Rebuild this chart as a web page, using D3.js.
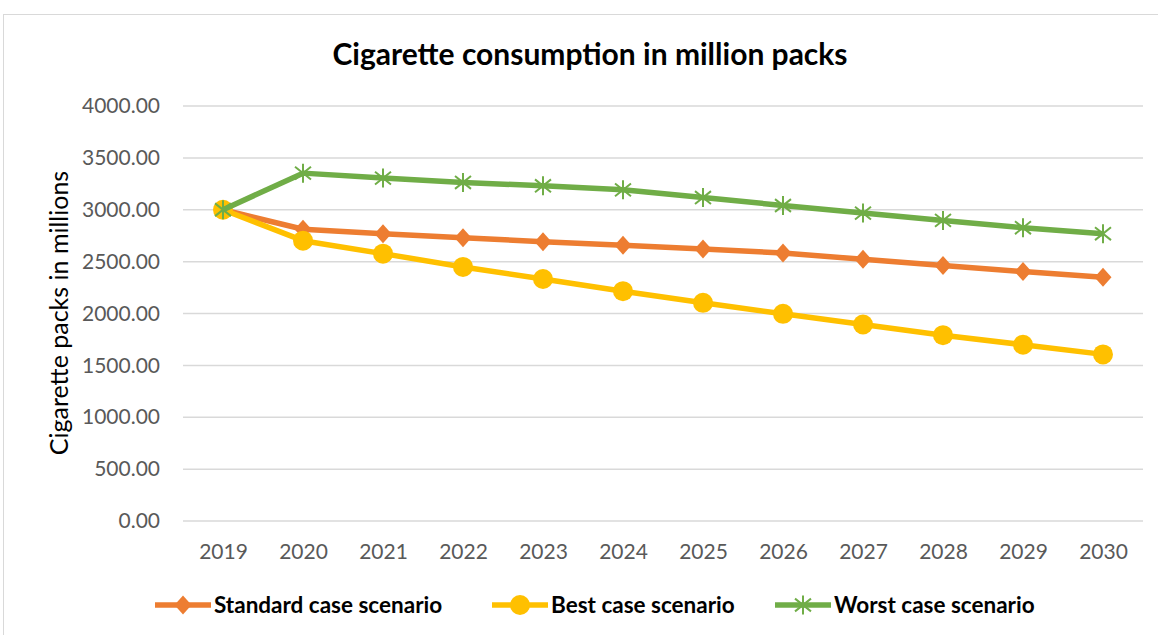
<!DOCTYPE html>
<html>
<head>
<meta charset="utf-8">
<script src="https://cdn.jsdelivr.net/npm/d3@7/dist/d3.min.js"></script>
<style>
  html, body { margin: 0; padding: 0; background: #fff; }
  svg { display: block; }
</style>
</head>
<body>
<svg id="chart" width="1158" height="635"></svg>
<script>
// Projected cigarette consumption (million packs) by scenario
const years = ["2019","2020","2021","2022","2023","2024","2025","2026","2027","2028","2029","2030"];
const standardCase = [3000, 2812, 2769, 2731, 2692, 2658, 2622, 2583, 2522, 2462, 2404, 2349];
const bestCase     = [3000, 2702, 2577, 2449, 2333, 2215, 2103, 1997, 1894, 1791, 1699, 1606];
const worstCase    = [3000, 3353, 3305, 3263, 3231, 3192, 3118, 3041, 2968, 2897, 2827, 2769];
const yTicks = [0, 500, 1000, 1500, 2000, 2500, 3000, 3500, 4000];

const seriesNames  = ["Standard case scenario", "Best case scenario", "Worst case scenario"];
const seriesValues = [standardCase, bestCase, worstCase];
const seriesColors = ["#ED7D31", "#FFC000", "#70AD47"];
const seriesMarkers = ["diamond", "circle", "star"];

const FONT = "Lato, 'Open Sans', sans-serif";
const svg = d3.select("#chart");

// outer chart frame
svg.append("rect")
  .attr("x", 3.5).attr("y", 14.5)
  .attr("width", 1170).attr("height", 640)
  .attr("fill", "none").attr("stroke", "#D9D9D9").attr("stroke-width", 1);

const x = d3.scalePoint().domain(years).range([183, 1143]).padding(0.5);
const y = d3.scaleLinear().domain([0, 4000]).range([521, 106]);

// horizontal gridlines
svg.append("g")
  .selectAll("line")
  .data(yTicks)
  .join("line")
  .attr("x1", 183).attr("x2", 1143)
  .attr("y1", d => y(d)).attr("y2", d => y(d))
  .attr("stroke", "#D9D9D9").attr("stroke-width", 1.5);

// y axis labels
const yAxis = d3.axisLeft(y).tickValues(yTicks).tickFormat(d3.format(".2f")).tickSize(0).tickPadding(0);
svg.append("g")
  .attr("transform", "translate(160,0)")
  .call(yAxis)
  .call(g => g.select(".domain").remove())
  .selectAll("text")
  .attr("font-family", FONT).attr("font-size", 21).attr("fill", "#595959");

// x axis labels
const xAxis = d3.axisBottom(x).tickSize(0).tickPadding(0);
svg.append("g")
  .attr("transform", "translate(0,544)")
  .call(xAxis)
  .call(g => g.select(".domain").remove())
  .selectAll("text")
  .attr("font-family", FONT).attr("font-size", 21).attr("fill", "#595959");

// title
svg.append("text")
  .attr("x", 590).attr("y", 65)
  .attr("text-anchor", "middle")
  .attr("font-family", FONT).attr("font-size", 30).attr("font-weight", "bold")
  .attr("fill", "#000")
  .text("Cigarette consumption in million packs");

// y axis title
svg.append("text")
  .attr("transform", "translate(68,313) rotate(-90)")
  .attr("text-anchor", "middle")
  .attr("font-family", FONT).attr("font-size", 25)
  .attr("fill", "#000")
  .text("Cigarette packs in millions");

function drawMarker(g, type, color) {
  if (type === "circle") {
    g.append("circle").attr("r", 10).attr("fill", color);
  } else if (type === "diamond") {
    g.append("path").attr("d", "M0,-9.5L8.5,0L0,9.5L-8.5,0Z").attr("fill", color);
  } else {
    const s = 9.5;
    const d = 8;
    g.append("path")
      .attr("d", `M0,${-s}L0,${s}M${-d},${-d * 0.8}L${d},${d * 0.8}M${-d},${d * 0.8}L${d},${-d * 0.8}`)
      .attr("stroke", color).attr("stroke-width", 2).attr("fill", "none");
  }
}

const line = d3.line().x((d, i) => x(years[i])).y(d => y(d));

seriesValues.forEach((vals, si) => {
  const g = svg.append("g");
  g.append("path")
    .attr("d", line(vals))
    .attr("fill", "none")
    .attr("stroke", seriesColors[si])
    .attr("stroke-width", 5.5)
    .attr("stroke-linejoin", "round");
  vals.forEach((v, i) => {
    const m = g.append("g").attr("transform", `translate(${x(years[i])},${y(v)})`);
    drawMarker(m, seriesMarkers[si], seriesColors[si]);
  });
});

// legend
const legendX = [155, 492, 775];
seriesNames.forEach((name, si) => {
  const g = svg.append("g").attr("transform", `translate(${legendX[si]},605)`);
  g.append("line").attr("x1", 0).attr("x2", 56).attr("y1", 0).attr("y2", 0)
    .attr("stroke", seriesColors[si]).attr("stroke-width", 5.5);
  const m = g.append("g").attr("transform", "translate(28,0)");
  drawMarker(m, seriesMarkers[si], seriesColors[si]);
  g.append("text")
    .attr("x", 59).attr("y", 8)
    .attr("font-family", FONT).attr("font-size", 22.5).attr("font-weight", "bold")
    .attr("fill", "#000")
    .text(name);
});
</script>
</body>
</html>
